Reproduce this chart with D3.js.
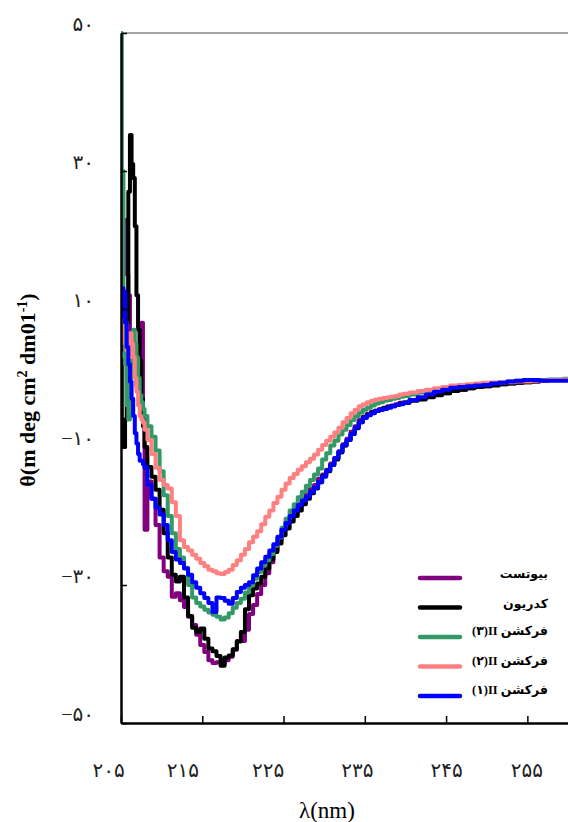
<!DOCTYPE html>
<html>
<head>
<meta charset="utf-8">
<script src="https://cdn.jsdelivr.net/npm/d3@7"></script>
<style>
  body { margin: 0; background: #fff; }
  svg { display: block; }
  .tick text { font-family: "Liberation Serif", "DejaVu Sans", serif; }
</style>
</head>
<body>
<svg id="chart"></svg>
<script>
// wavelength grid (nm)
var wavelength = [205.0,205.2,205.4,205.6,205.8,206.0,206.2,206.4,206.6,206.8,207.0,207.2,207.4,207.6,207.8,208.0,
  208.5,209,209.5,210,210.5,211,211.5,212,212.5,213,213.5,214,214.5,215,215.5,216,216.5,217,217.5,218,
  218.5,219,219.5,220,220.5,221,221.5,222,222.5,223,223.5,224,224.5,225,225.5,226,226.5,227,227.5,228,228.5,229,229.5,230,
  230.5,231,231.5,232,232.5,233,233.5,234,234.5,235,235.5,236,236.5,237,237.5,238,238.5,239,239.5,240,
  241,242,243,244,245,246,247,248,249,250,251,252,253,254,255,256,257,258,259,260];

var biotest = [4.1,15.7,22.2,22.9,15,12,6,3.3,2,0.2,-1.2,2.6,7.7,8,-6,-22,
  -15,-17.5,-21.3,-26,-28,-28.8,-31.7,-31.2,-32.2,-33.2,-34.6,-35.8,-37.2,-38.7,-39.7,-40.9,-41.3,-41.2,-41.4,-40.9,
  -40.4,-39.4,-38.1,-38.1,-36.5,-34.2,-32.9,-31.3,-30,-28.3,-26.7,-24.9,-23.5,-22,-20.9,-20,-19,-18.3,-17.5,-16.9,-16.1,-15.5,-14.6,-14,
  -13.3,-12.4,-11.6,-10.6,-9.6,-8.8,-7.8,-7,-6.1,-5.6,-5.2,-4.9,-4.7,-4.5,-4.3,-4.1,-4.0,-3.8,-3.6,-3.5,
  -3.2,-3,-2.7,-2.4,-2.2,-1.9,-1.7,-1.5,-1.3,-1.2,-1.0,-0.9,-0.8,-0.7,-0.6,-0.5,-0.4,-0.3,-0.3,-0.2];

var kedrion = [2.6,-9,-10,-6,8,27,35.2,31,29,22,12,7,2.5,-3,-7,-10,
  -12.9,-14.3,-16.2,-19.1,-22.5,-26,-28.5,-29.5,-28.8,-31.8,-34.5,-36.2,-36.8,-36.3,-37.8,-39.2,-39.6,-40.3,-41.7,-40.5,
  -40.2,-39.3,-38.2,-36.8,-33.5,-31.5,-30.5,-29.8,-28.8,-27.6,-26.3,-25.2,-24,-22.8,-21.8,-20.8,-20,-19.2,-18.3,-17.5,-16.7,-16,-15.1,-14.2,
  -13.5,-12.6,-11.8,-10.8,-9.8,-9,-8.1,-7.3,-6.4,-5.7,-5.3,-5,-4.8,-4.6,-4.4,-4.2,-4.1,-3.9,-3.7,-3.6,
  -3.3,-3.1,-2.8,-2.5,-2.2,-1.9,-1.7,-1.5,-1.3,-1.2,-1.1,-0.9,-0.8,-0.7,-0.6,-0.5,-0.4,-0.3,-0.3,-0.2];

var fraction3 = [50,30,12,2,-4,-6,0,6,7,5,3,0,-2.5,-3.5,-4.5,-5.5,
  -7,-8.5,-10.5,-13.5,-17,-20,-22.5,-24.8,-26,-27.5,-30,-31.8,-32.6,-33.1,-33.6,-34,-34.3,-34.6,-35,-34.7,
  -34.1,-33.3,-32.6,-32,-31.1,-30.1,-29.1,-28.1,-27.2,-26.4,-25.5,-24.3,-23.1,-21.7,-20.4,-19.2,-18.3,-17.3,-16.5,-15.6,-14.8,-14,-13.1,-11.8,
  -10.9,-9.8,-9.1,-8.2,-7.5,-6.8,-6.1,-5.5,-5,-4.6,-4.3,-4,-3.7,-3.5,-3.3,-3.2,-3.0,-2.9,-2.7,-2.6,
  -2.4,-2.1,-1.9,-1.7,-1.5,-1.3,-1.1,-1.0,-0.9,-0.8,-0.7,-0.6,-0.5,-0.4,-0.4,-0.3,-0.3,-0.2,-0.2,-0.1];

var fraction2 = [5,10,11.3,8,4,3,6.5,5,3,0,-2,-4,-5.5,-6,-6.5,-7.5,
  -9,-11,-13,-14.8,-15.5,-16,-18,-20,-23.5,-24.5,-25,-25.6,-26.2,-26.8,-27.3,-27.8,-28,-28.3,-28.4,-28.1,
  -27.8,-27.1,-26.4,-25.6,-24.8,-23.8,-23,-22.2,-21.2,-20.1,-19.2,-18.1,-17.2,-16.2,-15.3,-14.5,-13.9,-13.3,-12.8,-12.2,-11.7,-11.1,-10.4,-9.7,
  -9.1,-8.5,-7.9,-7.2,-6.4,-5.8,-5.1,-4.6,-4.1,-3.8,-3.5,-3.3,-3.1,-3,-2.9,-2.8,-2.7,-2.6,-2.4,-2.3,
  -2.1,-1.9,-1.7,-1.5,-1.3,-1.1,-1.0,-0.9,-0.8,-0.7,-0.7,-0.6,-0.6,-0.5,-0.5,-0.4,-0.4,-0.3,-0.3,-0.2];

var fraction1 = [9,13,12.5,8,4.5,2,-0.5,-3,-5.5,-8,-9.5,-11,-12,-12,-12.5,-13,
  -15.5,-17.5,-18.8,-19.8,-21.3,-23.5,-25.2,-26.3,-26.8,-27.6,-28.5,-29.6,-30.4,-31.2,-31.9,-32.6,-33.9,-31.8,-31.9,-32.3,
  -32.7,-31.9,-31,-30.4,-30,-29.6,-28.6,-27.6,-26.7,-25.9,-25,-24.1,-23,-22,-21,-20,-19.2,-18.4,-17.8,-17.2,-16.5,-15.9,-15.1,-14.3,
  -13.4,-12.6,-11.6,-10.7,-9.8,-9,-8.1,-7.2,-6.4,-5.8,-5.4,-5.1,-4.8,-4.6,-4.5,-4.3,-4.1,-3.9,-3.8,-3.6,
  -3.2,-2.8,-2.4,-2.0,-1.7,-1.4,-1.3,-1.2,-1.1,-1.0,-0.8,-0.7,-0.5,-0.4,-0.3,-0.3,-0.4,-0.4,-0.4,-0.4];

var seriesNames = ["بیوتست", "کدریون", "(۳)II فرکشن", "(۲)II فرکشن", "(۱)II فرکشن"];
var seriesValues = [biotest, kedrion, fraction3, fraction2, fraction1];
var seriesColors = ["#800080", "#000000", "#339966", "#ff8080", "#0000ff"];

var xTicks = [205, 215, 225, 235, 245, 255];
var xTickLabels = ["۲۰۵", "۲۱۵", "۲۲۵", "۲۳۵", "۲۴۵", "۲۵۵"];
var yTicks = [50, 30, 10, -10, -30, -50];
var yTickLabels = ["۵۰", "۳۰", "۱۰", "−۱۰", "−۳۰", "−۵۰"];

var width = 568;
var height = 822;
var margin = {top: 33, right: 0, bottom: 99, left: 121};
var chartWidth = width - margin.left - margin.right;
var chartHeight = height - margin.top - margin.bottom;

// label nudges, the original labels sit a bit left of their ticks
var xLabelNudge = [-13, -20, -16, -8, 0, -1];

var svg = d3.select("#chart")
            .attr("width", width)
            .attr("height", height);

var x = d3.scaleLinear()
          .domain([205, 260])
          .range([margin.left, margin.left + chartWidth]);

var y = d3.scaleLinear()
          .domain([-50, 50])
          .range([margin.top + chartHeight, margin.top]);

svg.append("defs").append("clipPath").attr("id", "plotClip")
   .append("rect")
   .attr("x", margin.left)
   .attr("y", margin.top - 2)
   .attr("width", chartWidth)
   .attr("height", chartHeight + 2);

// grey top frame line
svg.append("line")
   .attr("x1", margin.left).attr("x2", width)
   .attr("y1", y(50)).attr("y2", y(50))
   .attr("stroke", "#888").attr("stroke-width", 1.5);

var line = d3.line()
             .curve(d3.curveStep)
             .x(function(d){ return x(d[0]); })
             .y(function(d){ return y(d[1]); });

var lines = svg.append("g").attr("clip-path", "url(#plotClip)");
seriesValues.forEach(function(vals, i){
  var pts = wavelength.map(function(w, j){ return [w, vals[j]]; });
  lines.append("path")
       .datum(pts)
       .attr("d", line)
       .attr("fill", "none")
       .attr("stroke", seriesColors[i])
       .attr("stroke-width", 4)
       .attr("stroke-linejoin", "round");
});

// axes
var xAxis = d3.axisBottom(x)
              .tickValues(xTicks)
              .tickSizeInner(-7)
              .tickSizeOuter(0)
              .tickFormat(function(){ return ""; });

var gx = svg.append("g")
   .attr("transform", "translate(0," + y(-50) + ")")
   .call(xAxis);
gx.select(".domain").attr("stroke", "#000").attr("stroke-width", 2.5);
gx.selectAll(".tick line").attr("stroke", "#000").attr("stroke-width", 1.5);

gx.selectAll(".tick")
  .append("text")
  .attr("x", function(d, i){ return xLabelNudge[i]; })
  .attr("y", 54)
  .attr("fill", "#222")
  .attr("font-size", 20)
  .attr("text-anchor", "middle")
  .text(function(d, i){ return xTickLabels[i]; });

var yAxis = d3.axisLeft(y)
              .tickValues(yTicks)
              .tickSizeInner(-6)
              .tickSizeOuter(0)
              .tickFormat(function(){ return ""; });

var gy = svg.append("g")
   .attr("transform", "translate(" + margin.left + ",0)")
   .call(yAxis);
gy.select(".domain").attr("stroke", "#000").attr("stroke-width", 2.5);
gy.selectAll(".tick line").attr("stroke", "#000").attr("stroke-width", 1.5);

gy.selectAll(".tick")
  .append("text")
  .attr("x", -27)
  .attr("y", -3)
  .attr("fill", "#222")
  .attr("font-size", 20)
  .attr("text-anchor", "end")
  .text(function(d, i){ return yTickLabels[i]; });

// axis titles
svg.append("text")
   .attr("x", 327)
   .attr("y", 818)
   .attr("text-anchor", "middle")
   .attr("font-family", "Liberation Serif, serif")
   .attr("font-size", 23)
   .text("λ(nm)");

var yTitle = svg.append("text")
   .attr("transform", "translate(35,390) rotate(-90)")
   .attr("text-anchor", "middle")
   .attr("font-family", "Liberation Serif, serif")
   .attr("font-weight", "bold")
   .attr("font-size", 22);
yTitle.append("tspan").text("θ(m deg cm");
yTitle.append("tspan").attr("dy", -8).attr("font-size", 14).text("2");
yTitle.append("tspan").attr("dy", 8).text(" dm01");
yTitle.append("tspan").attr("dy", -8).attr("font-size", 14).text("-1");
yTitle.append("tspan").attr("dy", 8).text(")");

// legend
var legendY = d3.scaleLinear().domain([0, 4]).range([578, 696]);
var legend = svg.append("g");
seriesNames.forEach(function(name, i){
  var ly = legendY(i);
  legend.append("line")
        .attr("x1", 420).attr("x2", 460)
        .attr("y1", ly).attr("y2", ly)
        .attr("stroke", seriesColors[i])
        .attr("stroke-width", 4.5)
        .attr("stroke-linecap", "round");
  legend.append("text")
        .attr("x", 548)
        .attr("y", ly - (i < 2 ? 0 : 2))
        .attr("text-anchor", "end")
        .attr("font-family", "Liberation Serif, DejaVu Sans, serif")
        .attr("font-weight", "bold")
        .attr("font-size", 12.5)
        .text(name);
});
</script>
</body>
</html>
